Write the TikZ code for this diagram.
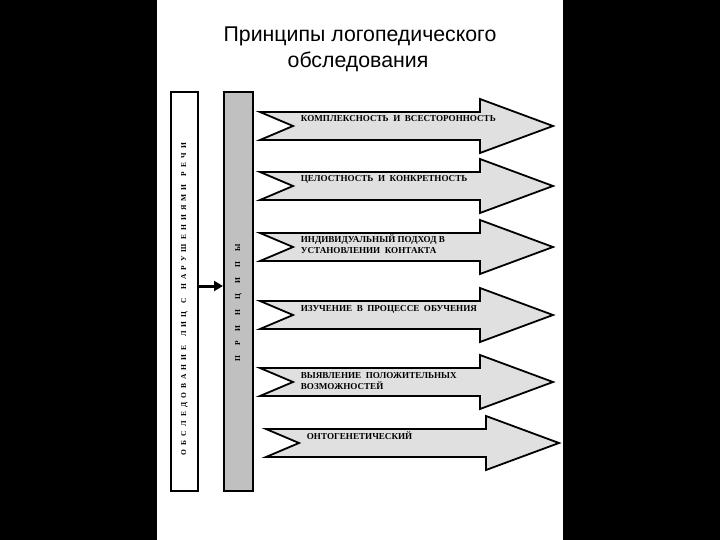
\documentclass[tikz,border=0pt]{standalone}
\usepackage{fontspec}
\setmainfont{Liberation Serif}
\newfontfamily\headfont{Liberation Sans}
\usetikzlibrary{arrows.meta}
\definecolor{boxgray}{RGB}{192,192,192}
\definecolor{arrgray}{RGB}{224,224,224}

\begin{document}
\begin{tikzpicture}[x=1pt,y=-1pt,line width=1.8pt,
  bar/.style={draw,line width=2pt,minimum width=27pt,minimum height=399pt,inner sep=0pt},
  vert/.style={rotate=90,font=\bfseries\fontsize{7.5}{9}\selectfont,inner sep=0pt},
  lab/.style={anchor=base west,align=left,inner sep=0pt,font=\bfseries\fontsize{9.1}{11}\selectfont},
  ttl/.style={font=\headfont\fontsize{21.3}{24}\selectfont,anchor=base,inner sep=0pt}]
\fill (0,0) rectangle (720,540);
\fill[white] (157,0) rectangle (563,540);
\useasboundingbox (0,0) rectangle (720,540);
% title
\node[ttl] (ttl1) at (360,42) {Принципы логопедического};
\node[ttl] (ttl2) at (358,68) {обследования};
% two bars
\node[bar,fill=white] (exam) at (184.5,291.5) {};
\node[bar,fill=boxgray,minimum width=29pt] (princ) at (238.5,291.5) {};
\node[vert] (examtxt) at (184.5,299) {\makebox[312pt][s]{О Б С Л Е Д О В А Н И Е\ \ Л И Ц\ \ С\ \ Н А Р У Ш Е Н И Я М И\ \ Р Е Ч И}};
\node[vert] (princtxt) at (238.5,303) {\makebox[117pt][s]{П Р И Н Ц И П Ы}};
\draw[-{Triangle[length=9pt,width=10pt]},line width=3pt] ([yshift=5.5pt]exam.east) -- ([yshift=5.5pt]princ.west);
% principles
\foreach \c/\d/\o/\t [count=\i] in {126/0/-4/{КОМПЛЕКСНОСТЬ~~И~~ВСЕСТОРОННОСТЬ},186/0/-4/{ЦЕЛОСТНОСТЬ~~И~~КОНКРЕТНОСТЬ},247/0/7/{ИНДИВИДУАЛЬНЫЙ ПОДХОД В\\УСТАНОВЛЕНИИ~~КОНТАКТА},315/0/-4/{ИЗУЧЕНИЕ~~В~~ПРОЦЕССЕ~~ОБУЧЕНИЯ},382/0/7/{ВЫЯВЛЕНИЕ~~ПОЛОЖИТЕЛЬНЫХ\\ВОЗМОЖНОСТЕЙ},443/6/-4/{ОНТОГЕНЕТИЧЕСКИЙ}}{
  \draw[fill=arrgray] (260+\d,\c-14) -- (480+\d,\c-14) -- (480+\d,\c-27) -- (553+\d,\c) -- (480+\d,\c+27) -- (480+\d,\c+14) -- (260+\d,\c+14) -- (293+\d,\c) -- cycle;
  \node[lab] (p\i) at (300+\d,\c+\o) {\t};
}
\end{tikzpicture}
\end{document}
